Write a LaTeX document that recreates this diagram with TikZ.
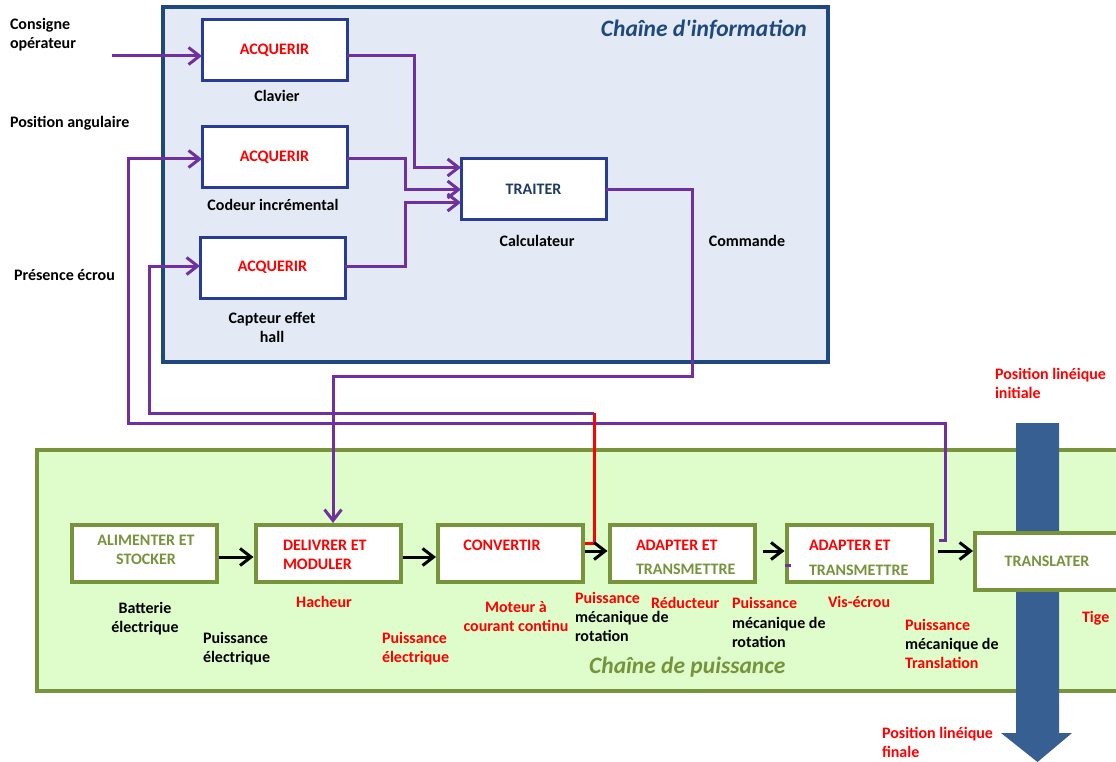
\documentclass[tikz,border=0pt]{standalone}
\usepackage{fontspec}
\setmainfont{Carlito}
\newfontfamily\titlefont{Carlito}
\usetikzlibrary{arrows.meta,calc}
\definecolor{infofill}{HTML}{E3EAF6}
\definecolor{infoframe}{HTML}{1F497D}
\definecolor{acqnavy}{HTML}{283C96}
\definecolor{sigpurple}{HTML}{7030A0}
\definecolor{olivegreen}{HTML}{77933C}
\definecolor{powfill}{HTML}{DFFDCA}
\definecolor{rodblue}{HTML}{375F92}
\definecolor{traitblue}{HTML}{1F3B64}
\definecolor{alertred}{HTML}{FF0000}
\begin{document}
\begin{tikzpicture}[x=1pt,y=-1pt,
  txt/.style={font=\fontsize{16}{19}\selectfont\bfseries, inner sep=0pt, outer sep=0pt},
  lbl/.style={txt, anchor=base west, align=left},
  clbl/.style={txt, anchor=base, align=center},
  ttl/.style={inner sep=0pt, font=\titlefont\fontsize{23.5}{28}\selectfont\bfseries\itshape},
  acq/.style={draw=acqnavy, line width=3pt, fill=white, minimum width=145pt,
    minimum height=61pt, inner sep=0pt, txt, text=alertred},
  pbox/.style={draw=olivegreen, line width=4pt, fill=white, minimum width=145pt,
    minimum height=57pt, inner sep=0pt},
  sig/.style={draw=sigpurple, line width=3pt},
  pow/.style={draw=black, line width=3pt},
  tip/.style={-{Straight Barb[length=11pt,width=17pt]}},
]
\useasboundingbox (0,0) rectangle (1116,762);

% information chain frame
\node[draw=infoframe, line width=3.5pt, fill=infofill, minimum width=665pt,
  minimum height=355pt, inner sep=0pt] (info) at (495.5,184.5) {};
\node[ttl, anchor=base east, text=infoframe] (infotitle) at (807,37) {Chaîne d'information};

% power chain frame
\node[draw=olivegreen, line width=4pt, fill=powfill, minimum width=1090pt,
  minimum height=241pt, inner sep=0pt] (power) at (582,570.5) {};
\node[ttl, anchor=base west, text=olivegreen] (powtitle) at (589,673) {Chaîne de puissance};

% rod travel arrow
\fill[rodblue] (1016,423) -- (1059,423) -- (1059,733) -- (1072,733) -- (1037.5,762)
  -- (1001,733) -- (1016,733) -- cycle;

% acquisition and processing blocks
\node[acq] (acq1) at (274.5,50.5) {ACQUERIR};
\node[acq] (acq2) at (274.5,157) {ACQUERIR};
\node[acq] (acq3) at (272.5,267.5) {ACQUERIR};
\node[acq, text=traitblue] (traiter) at (533.5,189.5) {TRAITER};

% power blocks
\node[pbox] (alim) at (144,553.5) {};
\node[pbox] (deliv) at (328,553.5) {};
\node[pbox] (conv) at (510.5,553.5) {};
\node[pbox] (adapt1) at (682,553.5) {};
\node[pbox] (adapt2) at (859,553.5) {};
\node[pbox] (transl) at (1047.5,561) {};

% block captions (base = last line)
\node[clbl, text=olivegreen] (alimT) at (146,564) {ALIMENTER ET\\STOCKER};
\node[lbl, text=alertred] (delivT) at (283,569) {DELIVRER ET\\MODULER};
\node[clbl, text=alertred] (convT) at (502,550) {CONVERTIR};
\node[lbl, text=alertred] (adapt1A) at (636,550) {ADAPTER ET};
\node[lbl, text=olivegreen] (adapt1B) at (636,574) {TRANSMETTRE};
\node[lbl, text=alertred] (adapt2A) at (809,550) {ADAPTER ET};
\node[lbl, text=olivegreen] (adapt2B) at (809,575) {TRANSMETTRE};
\node[clbl, text=olivegreen] (translT) at (1047,566) {TRANSLATER};

% labels
\node[lbl] (consigne) at (10,49) {Consigne\\opérateur};
\node[lbl] (posang) at (10,128) {Position angulaire};
\node[lbl] (presence) at (14,280) {Présence écrou};
\node[clbl] (clavier) at (277,102) {Clavier};
\node[clbl] (codeur) at (273,211) {Codeur incrémental};
\node[clbl] (capteur) at (272,342) {Capteur effet\\hall};
\node[clbl] (calcul) at (537,247) {Calculateur};
\node[clbl] (commande) at (747,247) {Commande};

\node[clbl] (batterie) at (145,632) {Batterie\\électrique};
\node[lbl] (pelec1) at (203,662) {Puissance\\électrique};
\node[clbl, text=alertred] (hacheur) at (324,607) {Hacheur};
\node[lbl, text=alertred] (pelec2) at (382,662) {Puissance\\électrique};
\node[clbl, text=alertred] (moteur) at (516,631) {Moteur à\\courant continu};
\node[lbl, text=alertred] (prot1A) at (575,603) {Puissance};
\node[lbl] (prot1B) at (575,641) {mécanique de\\rotation};
\node[lbl, text=alertred] (reduct) at (651,608) {Réducteur};
\node[lbl, text=alertred] (prot2A) at (732,608) {Puissance};
\node[lbl] (prot2B) at (732,647) {mécanique de\\rotation};
\node[lbl, text=alertred] (visecrou) at (828,607) {Vis-écrou};
\node[lbl, text=alertred] (ptrA) at (905,630) {Puissance};
\node[lbl] (ptrB) at (905,649) {mécanique de};
\node[lbl, text=alertred] (ptrC) at (905,668) {Translation};
\node[lbl, text=alertred] (tige) at (1082,622) {Tige};
\node[lbl, text=alertred] (posinit) at (995,398) {Position linéique\\initiale};
\node[lbl, text=alertred] (posfin) at (882,757) {Position linéique\\finale};

% information signals
\coordinate (consIn) at (112,56);
\coordinate (in1) at ($(traiter.west)+(0,-22)$);
\coordinate (in2) at ($(traiter.west)+(0,0)$);
\coordinate (in3) at ($(traiter.west)+(0,13)$);
\draw[sig, tip] (consIn) -- (consIn -| acq1.west);
\draw[sig, tip] ($(acq1.east)+(0,5.5)$) -- ++(67,0) |- (in1);
\draw[sig, tip] ($(acq2.east)+(0,2)$) -- ++(58,0) |- (in2);
\draw[sig, tip] ($(acq3.east)+(0,-1.5)$) -- ++(60,0) |- (in3);
\draw[sig, tip] (traiter.east) -- ++(86,0) -- ++(0,186.5) -| ($(deliv.north)+(5,0)$);

% feedback loops
\draw[sig, tip] ($(adapt2.east)+(5,-13.5)$) -- ++(7,0) -- ++(0,-117) -- (128,423)
  |- ($(acq2.west)+(0,2)$);
\draw[alertred, line width=3pt] ($(conv.east)+(0,-10.5)$) -- ++(9,0) -- ++(0,-130) coordinate (redTop);
\draw[sig, tip] (redTop) -- (149,413) |- ($(acq3.west)+(0,-1.5)$);
\draw[sigpurple, line width=3pt] ($(adapt2.west)+(0,11.5)$) -- ++(6,0);

% power flow
\draw[pow, tip] ($(alim.east)+(0,3.5)$) -- ($(deliv.west)+(0,3.5)$);
\draw[pow, tip] ($(deliv.east)+(0,3.5)$) -- ($(conv.west)+(0,3.5)$);
\draw[pow, tip] ($(conv.east)+(0,-2.5)$) -- ($(adapt1.west)+(0,-2.5)$);
\draw[pow, tip] ($(adapt1.east)+(6,-2.5)$) -- ($(adapt2.west)+(0,-2.5)$);
\draw[pow, tip] ($(adapt2.east)+(4,-2.5)$) -- ($(transl.west)+(0,-10)$);
\end{tikzpicture}
\end{document}
